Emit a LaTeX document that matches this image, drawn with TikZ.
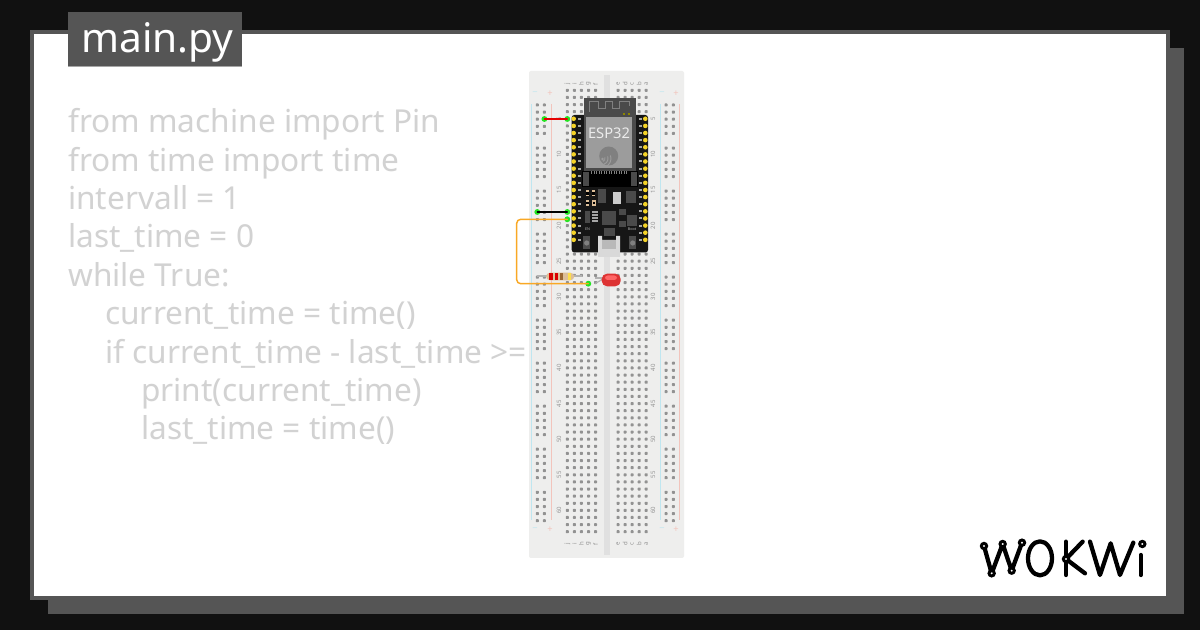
\documentclass[tikz,border=0pt]{standalone}
\usepackage{fontspec}
\usepackage{xcolor}
\setmainfont{Noto Sans}
\definecolor{pagedark}{HTML}{111111}
\definecolor{framegrey}{HTML}{555555}
\definecolor{codegrey}{HTML}{D2D2D2}
\definecolor{boardgrey}{HTML}{EEEEED}
\definecolor{channelgrey}{HTML}{E0E0E0}
\definecolor{holegrey}{HTML}{929292}
\definecolor{railblue}{HTML}{BFE6F0}
\definecolor{railred}{HTML}{F2C4BC}
\definecolor{pcbblack}{HTML}{161616}
\definecolor{modgrey}{HTML}{4A4A4A}
\definecolor{cangrey}{HTML}{9C9C9C}
\definecolor{pinyellow}{HTML}{F5D327}
\definecolor{wireorange}{HTML}{F9A825}
\definecolor{dotgreen}{HTML}{22E622}
\definecolor{restan}{HTML}{DDBE98}
\definecolor{ledred}{HTML}{DD3333}
\tikzset{
  codeline/.style={anchor=base west,inner sep=0pt,text=codegrey,font=\fontsize{23.7}{24}\selectfont},
  rowlabel/.style={inner sep=0pt,text=holegrey,rotate=90,font=\fontsize{4.5}{5}\selectfont},
  collabel/.style={inner sep=0pt,text=holegrey,rotate=90,font=\fontsize{4.5}{5}\selectfont},
  railmark/.style={inner sep=0pt,font=\fontsize{7}{7}\selectfont},
  wireend/.style={circle,fill=dotgreen,inner sep=0pt,minimum size=4.4pt},
  wire/.style={line width=1.1pt,line cap=round},
  logoline/.style={line width=3.2pt,line cap=round,line join=round},
  logohole/.style={draw=black,fill=white,line width=2.2pt},
}
\begin{document}
\begin{tikzpicture}[x=0.75pt,y=-0.75pt]
  \useasboundingbox (0,0) rectangle (1200,630);
  \fill[pagedark] (0,0) rectangle (1200,630);
  \fill[framegrey] (48,48) rectangle (1184,614);
  \fill[framegrey] (30,30) rectangle (1170,600);
  \fill[white] (34,34) rectangle (1166,596);
  % title
  \fill[framegrey] (68,12) rectangle (242,66);
  \draw[color=gray!70,line width=0.5pt] (68,66) -- (242,66);
  \node[anchor=base west,inner sep=0pt,text=white,font=\fontsize{30.5}{30}\selectfont] (title) at (81,53) {main.py};
  % code
  \node[codeline] (l1) at (68,132.7) {from machine import Pin};
  \node[codeline] (l2) at (68,171.1) {from time import time};
  \node[codeline] (l3) at (68,209.5) {intervall = 1};
  \node[codeline] (l4) at (68,247.9) {last\_time = 0};
  \node[codeline] (l5) at (68,286.3) {while True:};
  \node[codeline] (l6) at (105,324.7) {current\_time = time()};
  \node[codeline] (l7) at (105,363.1) {if current\_time - last\_time >=};
  \node[codeline] (l8) at (141,401.5) {print(current\_time)};
  \node[codeline] (l9) at (141,439.9) {last\_time = time()};
  % breadboard
  \fill[boardgrey,rounded corners=1.5] (529,71) rectangle (684,558);
  \fill[channelgrey] (604,75) rectangle (609.5,555);
  \foreach \xa in {531.3,660.3} \draw[railblue,line width=0.6pt] (\xa,104) -- (\xa,520);
  \foreach \xa in {551.7,679.3} \draw[railred,line width=0.6pt] (\xa,104) -- (\xa,520);
  \foreach \c in {567.3,574.4,581.4,588.5,595.5,618,625.1,632.1,639.2,646.2}
    \foreach \r in {0,...,62}
      \fill[holegrey,rounded corners=0.5] (\c-1.5,90.3+\r*7.12-1.5) rectangle ++(3,3);
  \foreach \c in {537.3,544.4,666,673.4}
    \foreach \g in {0,...,9}
      \foreach \r in {0,...,4}
        \fill[holegrey,rounded corners=0.5] (\c-1.5,105+\g*43.03+\r*7.12-1.5) rectangle ++(3,3);
  \foreach \r in {5,10,...,60} {
    \pgfmathsetmacro\ya{90.3+(\r-1)*7.12}
    \node[rowlabel] at (559,\ya) {\r};
    \node[rowlabel] at (653,\ya) {\r};
  }
  \foreach \yb in {84,544} {
    \foreach \c/\t in {567.3/j,574.4/i,581.4/h,588.5/g,595.5/f,618/e,625.1/d,632.1/c,639.2/b,646.2/a}
      \node[collabel] at (\c,\yb) {\t};
  }
  \foreach \yb in {93.3,530} {
    \foreach \xa in {535,662} \node[railmark,text=railblue] at (\xa,\yb) {−};
    \foreach \xa in {550,676} \node[railmark,text=railred] at (\xa,\yb) {+};
  }
  % esp32
  \fill[pcbblack,rounded corners=2] (571.7,115) rectangle (648,252.5);
  \fill[modgrey] (584,97.7) rectangle (635.7,171);
  \fill[cangrey] (585.7,117) rectangle (632.3,168.3);
  \draw[gray,line width=0.7pt] (589,112) -- (589,101) -- (598,101) -- (598,108) -- (605,108) -- (605,101) -- (612,101) -- (612,108) -- (619,108) -- (619,101) -- (629,101) -- (629,106);
  \fill[olive] (622.5,112.7) rectangle ++(2,2);
  \fill[olive] (628.2,112.7) rectangle ++(2,2);
  \node[inner sep=0pt,text=white!92!black,font=\fontsize{11}{12}\selectfont] (chip) at (609,133) {ESP32};
  \fill[gray] (608.7,156) circle (9.5);
  \foreach \ra in {3,6,9} \draw[cangrey,line width=0.7pt] (602,158.5) ++(70:\ra) arc (70:-20:\ra);
  \fill[cangrey] (602.5,159) circle (1.3);
  \foreach \r in {4,...,21} {
    \pgfmathsetmacro\ya{90.3+\r*7.12}
    \fill[pinyellow] (573.7,\ya) circle (2.3);
    \fill[pinyellow] (645.3,\ya) circle (2.3);
    \fill[gray!70] (577.5,\ya-1) rectangle ++(3,2);
    \fill[gray!70] (639,\ya-1) rectangle ++(3,2);
  }
  % lower part of the board
  \fill[black] (581.7,171) rectangle (637.7,187);
  \fill[modgrey] (582.5,172) rectangle (588.5,186);
  \fill[modgrey] (630.8,172) rectangle (636.8,186);
  \foreach \c in {591,593.5,...,628} \fill[gray] (\c,171.5) rectangle ++(1.2,2.4);
  \foreach \xa/\ya in {587.5/193.5,593.5/193.5,587.5/203,594/203} {
    \fill[restan] (\xa-1.7,\ya-3) rectangle (\xa+1.7,\ya+3);
    \fill[black] (\xa-1.2,\ya-1.4) rectangle (\xa+1.2,\ya+1.4);
  }
  \fill[modgrey] (597.5,189) rectangle (606,203);
  \fill[gray!40] (613,192) rectangle (621,204);
  \fill[modgrey] (626,191) rectangle (636,203);
  \fill[modgrey] (602,211) rectangle (616,225);
  \fill[modgrey] (585,211) rectangle (590,223);
  \foreach \ya in {211,214,217,220} \fill[gray!70] (592,\ya) rectangle ++(6,2);
  \fill[modgrey] (619,209) rectangle (626,215);
  \fill[modgrey] (619,221) rectangle (626,227);
  \fill[modgrey] (627,215) rectangle (637,226);
  \foreach \xa in {586.7,632.7} {
    \fill[gray!60!black] (\xa-3.5,236) rectangle (\xa+3.5,249);
    \fill[gray] (\xa,243) circle (2.6);
  }
  \node[inner sep=0pt,text=gray!60,font=\fontsize{2.8}{3}\selectfont] (enlabel) at (587.5,229) {EN};
  \node[inner sep=0pt,text=gray!60,font=\fontsize{2.8}{3}\selectfont] (bootlabel) at (632,229) {Boot};
  \fill[modgrey] (604,228) rectangle (615,236);
  \fill[gray!30] (598,236) -- (602,236) -- (602,240) -- (616,240) -- (616,236) -- (620,236) -- (620,257) -- (598,257) -- cycle;
  \fill[gray!55] (602,240) rectangle (616,249);
  % resistor
  \draw[gray!60,line width=0.9pt] (536.7,276) -- (581.7,276);
  \fill[restan,rounded corners=3] (546,272.7) rectangle (574.3,280.3);
  \fill[red!85!black] (549,272.7) rectangle ++(3.7,7.6);
  \fill[red!85!black] (555,272.7) rectangle ++(3,7.6);
  \fill[brown!80!black] (560,272.7) rectangle ++(3,7.6);
  \fill[yellow!70!orange!70!white] (568.3,272.7) rectangle ++(3,7.6);
  % led
  \draw[gray!60,line width=0.9pt] (595.3,278) -- (603,278);
  \draw[gray!60,line width=0.9pt] (595,283.7) -- (603,279);
  \fill[ledred,rounded corners=4] (601.7,273.7) rectangle (620.7,286.3);
  \fill[red!60!white,rounded corners=2] (605,275.5) rectangle (617,280);
  % wires
  \node[wireend] (redb) at (544.4,119) {};
  \node[wireend] (reda) at (567.3,119) {};
  \node[wireend] (blackb) at (537.3,212) {};
  \node[wireend] (blacka) at (567.3,212) {};
  \node[wireend] (orangea) at (567.3,219.3) {};
  \node[wireend] (orangeb) at (588.3,283.7) {};
  \coordinate (cornertop) at (516.7,219.3);
  \coordinate (cornerbot) at (516.7,283.7);
  \draw[wire,red!90!black] (redb.center) -- (reda.center);
  \draw[wire,black] (blackb.center) -- (blacka.center);
  \draw[wire,wireorange,rounded corners=3] (orangea.center) -- (cornertop) -- (cornerbot) -- (orangeb.center);
  % logo
  \begin{scope}[shift={(960,520)},scale=0.3333]
    \draw[logoline] (72,78) -- (95,160) -- (128,72) -- (155,152) -- (186,68);
    \draw[logoline] (240,115) ellipse (36 and 51);
    \draw[logoline] (318,65) -- (318,165);
    \draw[logoline] (368,65) -- (318,117) -- (375,160);
    \draw[logoline] (390,65) -- (420,165) -- (452,70) -- (480,165) -- (520,68);
    \draw[logoline] (542,105) -- (542,165);
    \foreach \xa/\ya in {72/78,128/72,186/68,95/160,155/152,318/117,547/72}
      \fill[logohole] (\xa,\ya) circle (8);
  \end{scope}
\end{tikzpicture}
\end{document}
